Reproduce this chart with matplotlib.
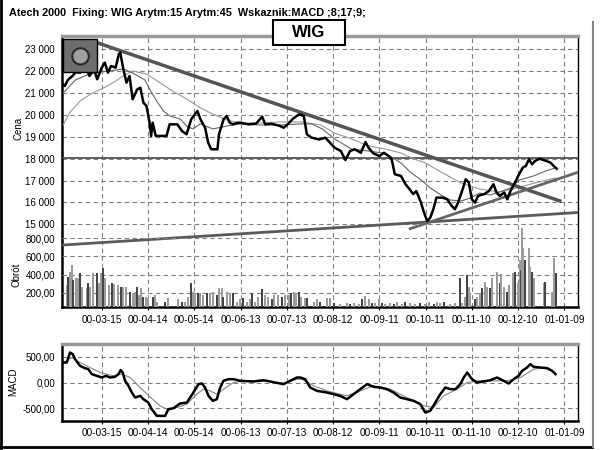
import numpy as np
import matplotlib.pyplot as plt
from matplotlib.patches import Rectangle, Ellipse
from matplotlib.lines import Line2D
from matplotlib.ticker import FuncFormatter

plt.rcParams['font.family'] = ['Liberation Sans', 'DejaVu Sans']

# x = days counted from 2000-03-15
tick_days = [0, 30, 60, 90, 120, 150, 180, 210, 240, 270, 300]
tick_labels = ["00-03-15", "00-04-14", "00-05-14", "00-06-13", "00-07-13", "00-08-12",
               "00-09-11", "00-10-11", "00-11-10", "00-12-10", "01-01-09"]

price_day = [-26, -24, -22, -19, -17, -14, -12, -10, -8, -5,
             -3, 0, 2, 4, 6, 9, 11, 12, 14, 16,
             18, 20, 23, 25, 27, 29, 31, 32, 33, 35,
             38, 42, 44, 49, 52, 55, 58, 62, 64, 67,
             69, 71, 75, 76, 79, 81, 83, 85, 88, 90,
             95, 100, 104, 106, 110, 115, 118, 121, 124, 128,
             131, 133, 136, 141, 145, 148, 151, 155, 158, 161,
             164, 168, 171, 173, 176, 180, 183, 186, 188, 190,
             194, 197, 200, 202, 204, 207, 209, 211, 213, 215,
             217, 221, 224, 227, 229, 231, 234, 236, 238, 240,
             242, 244, 248, 251, 254, 256, 258, 261, 263, 265,
             268, 270, 273, 275, 277, 279, 281, 284, 288, 291,
             293, 295]
price_val = [21470, 21320, 21600, 21780, 21950, 21930, 22100, 22150, 21780, 22090,
             21630, 22160, 22390, 21930, 22240, 22160, 22770, 22845, 22085, 21475,
             21780, 20715, 21170, 21245, 20560, 20410, 19645, 19040, 19645, 19040,
             19040, 19040, 19570, 19570, 19265, 19115, 19800, 20180, 19800, 19415,
             18730, 18430, 18430, 19115, 19800, 19950, 19645, 19570, 19645, 19645,
             19570, 19600, 19920, 19570, 19600, 19510, 19415, 19600, 19830, 20030,
             19950, 19115, 18960, 18880, 18960, 18730, 18500, 18350, 17940, 18350,
             18430, 18270, 18760, 18500, 18250, 18120, 18270, 18120, 17970, 17290,
             17210, 16830, 16570, 16380, 16520, 15990, 15530, 15150, 15300, 15685,
             16220, 16220, 16140, 15835, 15685, 15990, 16600, 17060, 16910, 16140,
             15990, 16300, 16380, 16520, 16830, 16450, 16300, 16450, 16140, 16520,
             16910, 17210, 17590, 17670, 17970, 17740, 17900, 18000, 17900, 17820,
             17670, 17540]

ma15_day = [-25, -17, -8, -1, 9, 14, 20, 28, 31, 36,
            40, 44, 51, 55, 59, 64, 72, 81, 90, 103,
            116, 129, 136, 143, 151, 162, 173, 182, 187, 194,
            200, 207, 213, 220, 226, 233, 239, 245, 252, 258,
            265, 271, 280, 288, 294]
ma15_val = [21000, 21600, 21870, 21960, 22050, 22100, 21920, 21600, 21190, 20590,
            20180, 19950, 19810, 19490, 19360, 19590, 19360, 19490, 19590, 19540,
            19540, 19590, 19590, 19360, 18900, 18440, 18350, 18260, 18120, 17800,
            17390, 17030, 16660, 16340, 16110, 16070, 16200, 16430, 16340, 16480,
            16660, 17030, 17210, 17440, 17580]

ma45_day = [-25, -21, -14, -6, 1, 7, 14, 20, 29, 38,
            46, 55, 64, 72, 81, 89, 103, 116, 129, 142,
            151, 162, 173, 184, 194, 201, 210, 220, 233, 245,
            258, 269, 281, 294]
ma45_val = [19540, 20090, 20640, 21000, 21230, 21460, 21780, 22010, 21870, 21460,
            21090, 20730, 20320, 20040, 19770, 19630, 19630, 19680, 19680, 19540,
            19170, 18900, 18580, 18440, 18260, 18030, 17800, 17390, 16890, 16610,
            16480, 16660, 16890, 17120]

# trend lines drawn on the chart: (start day, end day), (start price, end price)
trend_down = ([-3, 297], [23300, 16070])
trend_up = ([200, 308], [14800, 17360])
trend_long = ([-26, 309], [14050, 15540])
resistance = 18050

vol_day = [-22.7, -21.7, -20.6, -19.5, -18.4, -16.7, -15.2, -14.1, -13.0, -9.8,
           -8.7, -7.6, -5.4, -3.3, -1.5, -0.7, 1.1, 2.1, 4.9, 6.5,
           8.0, 10.8, 12.3, 14.0, 15.8, 18.4, 20.1, 21.6, 22.7, 24.4,
           25.5, 27.0, 28.7, 30.3, 33.1, 34.6, 36.1, 41.1, 43.2, 49.7,
           51.9, 54.1, 56.2, 57.7, 59.0, 60.5, 62.1, 63.8, 65.9, 68.1,
           70.3, 72.0, 74.6, 76.3, 77.8, 78.9, 81.1, 83.3, 85.0, 87.6,
           89.7, 91.5, 94.1, 96.2, 97.3, 99.5, 101.6, 103.8, 105.9, 108.1,
           110.3, 111.4, 114.6, 116.8, 118.9, 121.1, 122.6, 124.4, 126.1, 127.6,
           129.1, 131.9, 133.4, 137.3, 139.5, 141.7, 146.0, 148.1, 150.3, 154.6,
           159.0, 161.1, 163.3, 166.5, 168.7, 170.8, 173.0, 175.2, 177.3, 179.5,
           181.7, 183.8, 187.1, 189.2, 191.4, 194.6, 196.8, 200.0, 203.3, 206.5,
           209.8, 211.9, 215.2, 217.4, 219.5, 221.7, 226.0, 229.3, 232.1, 233.6,
           235.7, 236.8, 237.9, 239.0, 242.2, 243.3, 245.0, 246.6, 248.7, 249.8,
           252.0, 253.0, 256.3, 258.0, 258.9, 260.6, 262.8, 263.9, 266.7, 268.2,
           269.7, 271.0, 271.9, 272.7, 273.2, 274.2, 276.8, 277.9, 279.0, 280.5,
           286.6, 287.7, 292.0, 293.5, 294.8]
vol_val = [285, 376, 431, 505, 340, 358, 358, 413, 266, 248,
           303, 266, 413, 413, 303, 413, 468, 358, 285, 303,
           292, 280, 266, 266, 260, 211, 192, 211, 266, 174,
           248, 156, 156, 138, 156, 174, 100, 100, 145, 130,
           100, 100, 156, 303, 211, 192, 192, 192, 174, 192,
           192, 211, 174, 248, 248, 156, 211, 200, 192, 100,
           130, 145, 100, 130, 192, 100, 156, 240, 174, 156,
           130, 174, 174, 156, 180, 174, 192, 211, 192, 211,
           156, 138, 138, 100, 130, 100, 138, 138, 81, 75,
           90, 75, 90, 75, 130, 167, 130, 90, 81, 130,
           81, 75, 90, 75, 100, 75, 100, 81, 75, 81,
           75, 100, 75, 100, 81, 100, 75, 81, 365, 81,
           156, 395, 266, 192, 130, 156, 192, 248, 321, 266,
           248, 358, 431, 303, 402, 266, 211, 285, 413, 431,
           303, 560, 450, 910, 690, 560, 690, 486, 431, 358,
           303, 321, 211, 579, 413]

macd_day = [-24.9, -22.7, -20.6, -18.8, -17.3, -14.1, -10.8, -8.7, -6.5, -3.2,
            0.0, 2.8, 5.4, 8.6, 10.8, 12.3, 13.6, 15.1, 17.3, 19.5,
            21.6, 24.9, 27.0, 30.2, 32.4, 35.7, 38.9, 41.1, 43.2, 46.5,
            50.8, 55.2, 57.3, 59.4, 62.7, 64.9, 67.0, 69.2, 72.0, 74.6,
            76.8, 78.9, 82.2, 85.4, 89.7, 98.4, 104.9, 109.2, 117.8, 122.2,
            126.5, 128.7, 131.9, 135.2, 139.5, 146.0, 150.3, 154.6, 159.0, 163.3,
            167.6, 172.0, 176.3, 180.6, 184.9, 189.2, 193.6, 197.9, 202.2, 206.6,
            209.8, 213.0, 216.3, 219.5, 222.8, 226.0, 229.3, 232.5, 234.7, 236.9,
            240.1, 243.3, 247.6, 252.0, 256.3, 260.6, 263.9, 267.1, 270.3, 272.6,
            275.8, 277.9, 280.1, 284.4, 288.8, 292.0, 294.2]
macd_val = [388, 388, 581, 549, 452, 323, 277, 259, 162, 130,
            97, 130, 97, 110, 162, 240, 194, 33, -64, -194,
            -291, -258, -323, -388, -517, -646, -646, -646, -517, -498,
            -407, -388, -291, -194, -32, -19, -97, -258, -355, -323,
            -97, 33, 65, 65, 33, 20, 45, 20, -32, 33,
            97, 97, 65, -97, -161, -194, -226, -258, -323, -226,
            -129, -32, -84, -97, -129, -194, -291, -323, -355, -420,
            -581, -549, -388, -226, -97, -129, -129, -32, 97, 194,
            65, 0, 20, 45, 97, 33, -19, 65, 130, 226,
            291, 356, 304, 291, 278, 226, 162]

sig_day = [-24.9, -19.5, -14.1, -7.6, -1.1, 7.5, 13.0, 18.4, 24.9, 31.3,
           37.8, 42.2, 48.7, 55.2, 61.6, 65.9, 70.3, 74.6, 78.9, 85.4,
           94.1, 107.1, 117.8, 126.5, 130.0, 137.3, 146.0, 159.0, 167.6, 176.3,
           187.1, 197.9, 208.7, 215.2, 221.7, 230.4, 236.9, 243.3, 252.0, 262.8,
           271.4, 280.1, 288.8, 294.2]
sig_val = [388, 485, 388, 291, 194, 130, 162, 100, -100, -280,
           -452, -517, -484, -420, -226, -129, -161, -226, -129, 0,
           33, 20, -13, 65, 60, -64, -161, -258, -161, -64,
           -129, -291, -452, -484, -258, -129, 0, 33, 33, 33,
           97, 259, 291, 194]

grid_kw = dict(color='#808080', linewidth=0.8, linestyle=(0, (4, 3)))
comma2 = FuncFormatter(lambda v, p: f"{v:.2f}".replace(".", ","))

fig = plt.figure(figsize=(6, 4.5), dpi=100)

# price + volume panel
ax = fig.add_axes([0.1033, 0.3171, 0.86, 0.6029])
ax.set_xlim(-25.8, 308.8)
ax.set_ylim(11206, 23608)
ax.set_yticks(range(15000, 23001, 1000))
ax.yaxis.set_major_formatter(FuncFormatter(lambda v, p: f"{v:,.0f}".replace(",", " ")))
ax.set_xticks(tick_days)
ax.set_xticklabels(tick_labels)
ax.grid(True, **grid_kw)
ax.tick_params(axis='y', length=0, pad=5, labelsize=7)
ax.tick_params(axis='x', length=2, pad=3.5, labelsize=7.2)

ax.plot(*trend_long, color='#5a5a5a', lw=2, zorder=3)
ax.axhline(resistance, color='#444444', lw=1.2, zorder=3)
ax.plot(ma45_day, ma45_val, color='#9a9a9a', lw=0.8, zorder=4)
ax.plot(ma15_day, ma15_val, color='#666666', lw=0.8, zorder=4)
ax.plot(*trend_down, color='#555555', lw=2.5, zorder=5)
ax.plot(*trend_up, color='#666666', lw=2, zorder=5)
ax.plot(price_day, price_val, color='black', lw=1.8, zorder=6)

for s in ['left', 'bottom']:
    ax.spines[s].set_linewidth(1.8)
ax.spines['top'].set_color('#999999')
ax.spines['top'].set_linewidth(2.5)
ax.spines['right'].set_linewidth(1)

axv = ax.twinx()
axv.set_ylim(39, 3031)
axv.set_yticks([200, 400, 600, 800])
axv.yaxis.set_major_formatter(comma2)
axv.yaxis.tick_left()
axv.tick_params(axis='y', length=0, pad=5, labelsize=7)
axv.grid(True, axis='y', **grid_kw)
for s in axv.spines.values():
    s.set_visible(False)
bar_colors = ['#9c9c9c' if i % 3 != 1 else '#454545' for i in range(len(vol_day))]
axv.bar(vol_day, vol_val, width=1.3, bottom=0, color=bar_colors, linewidth=0, zorder=2)

# logo
ax.add_patch(Rectangle((0.002, 0.867), 0.066, 0.122, transform=ax.transAxes,
                       facecolor='#6e6e6e', edgecolor='black', lw=1, zorder=10))
ax.add_patch(Ellipse((0.036, 0.925), 0.032, 0.06, transform=ax.transAxes,
                     facecolor='#a0a0a0', edgecolor='#2a2a2a', lw=1.5, zorder=11))

# MACD panel
axm = fig.add_axes([0.1033, 0.0651, 0.86, 0.1704])
axm.set_xlim(-25.8, 308.8)
axm.set_ylim(-740, 746)
axm.set_yticks([-500, 0, 500])
axm.yaxis.set_major_formatter(comma2)
axm.set_xticks(tick_days)
axm.set_xticklabels(tick_labels)
axm.grid(True, **grid_kw)
axm.tick_params(axis='y', length=0, pad=5, labelsize=7)
axm.tick_params(axis='x', length=2, pad=3.5, labelsize=7.2)
axm.plot(sig_day, sig_val, color='#888888', lw=0.8, zorder=3)
axm.plot(macd_day, macd_val, color='black', lw=1.8, zorder=4)
for s in ['left', 'bottom']:
    axm.spines[s].set_linewidth(1.8)
axm.spines['top'].set_color('#999999')
axm.spines['top'].set_linewidth(2.5)
axm.spines['right'].set_linewidth(1)

# labels and title
fig.text(18 / 600, 1 - 128 / 450, "Cena", rotation=90, ha='center', va='center', fontsize=7)
fig.text(17 / 600, 1 - 275 / 450, "Obrót", rotation=90, ha='center', va='center', fontsize=7)
fig.text(13 / 600, 1 - 382 / 450, "MACD", rotation=90, ha='center', va='center', fontsize=7)
fig.text(9 / 600, 1 - 13 / 450, "Atech 2000  Fixing: WIG Arytm:15 Arytm:45  Wskaznik:MACD ;8;17;9;",
         ha='left', va='center', fontsize=7.8, fontweight='bold')

fig.add_artist(Rectangle((273 / 600, 1 - 45 / 450), 72 / 600, 25 / 450, transform=fig.transFigure,
                         facecolor='white', edgecolor='black', lw=1.5, zorder=20))
fig.text(309 / 600, 1 - 32.5 / 450, "WIG", ha='center', va='center', fontsize=12,
         fontweight='bold', zorder=21)

# window frame
fig.add_artist(Line2D([0.002, 0.002], [0.004, 1], transform=fig.transFigure, color='black', lw=2))
fig.add_artist(Line2D([0.002, 0.987], [0.006, 0.006], transform=fig.transFigure, color='black', lw=2))
fig.add_artist(Line2D([0.988, 0.988], [0.006, 1 - 22 / 450], transform=fig.transFigure,
                      color='#888888', lw=1.5))

fig.savefig("out.png", dpi=100)
